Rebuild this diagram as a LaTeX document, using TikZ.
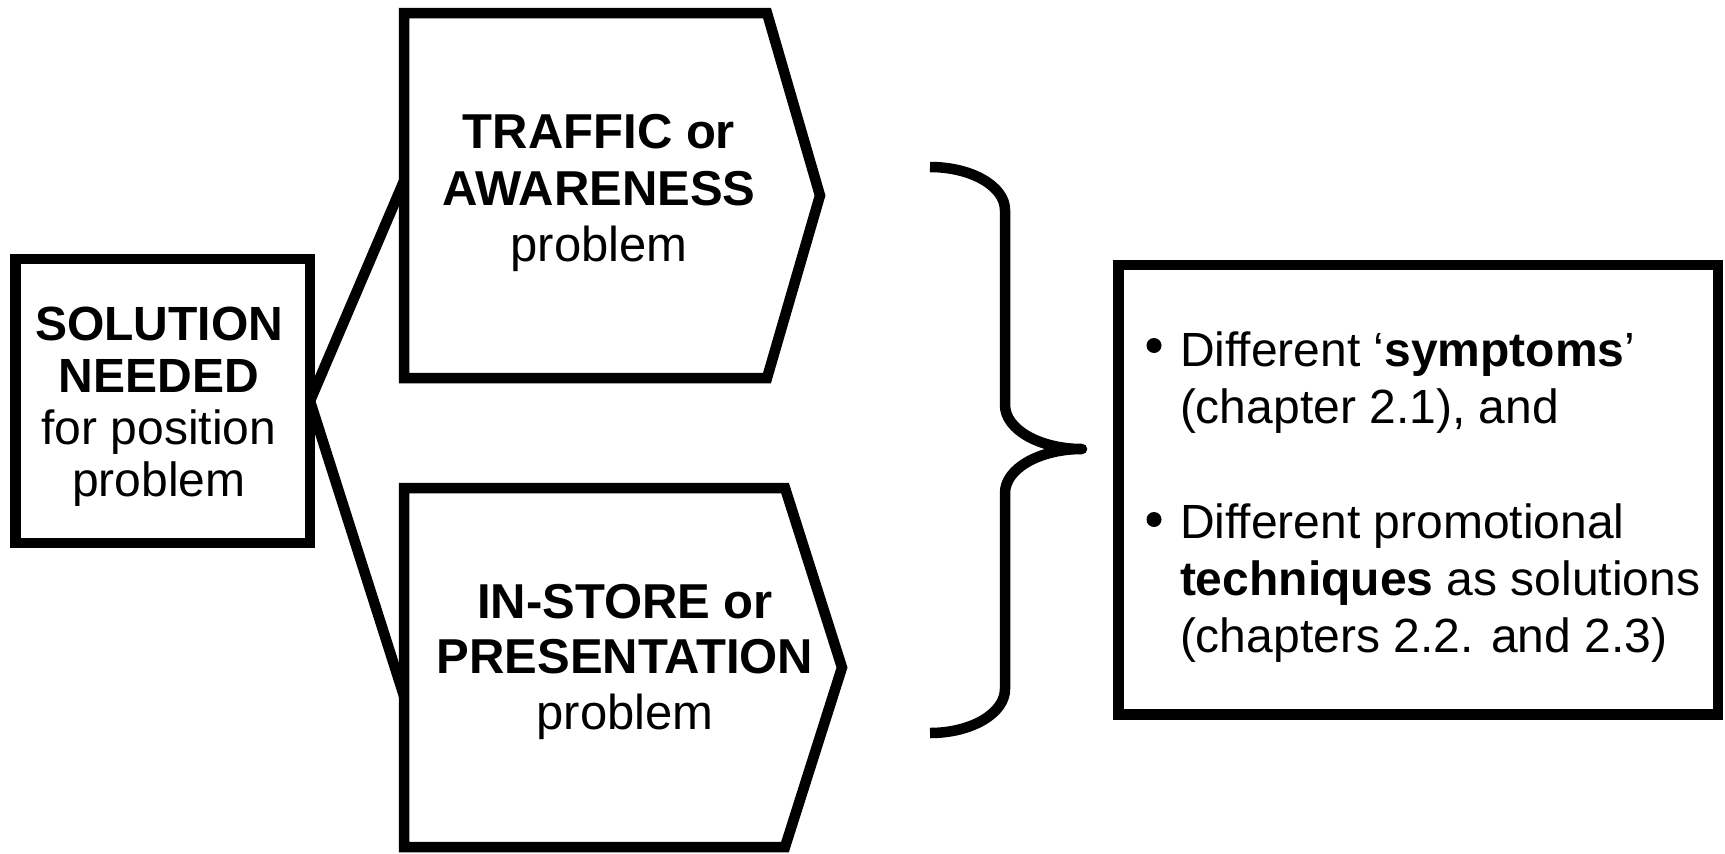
\documentclass[tikz,border=0pt]{standalone}
\usepackage{fontspec}
\setmainfont{Liberation Sans}
\begin{document}
\begin{tikzpicture}[x=1pt,y=-1pt,
  shapeline/.style={draw=black,line width=10.5pt,line join=miter},
  boxnode/.style={shapeline,rectangle,inner sep=0pt,outer sep=0pt},
  txt/.style={inner sep=0pt,outer sep=0pt,text=black},
  conn/.style={draw=black,line width=10.5pt},
  bracepath/.style={draw=black,line width=10.5pt,line join=round,line cap=butt}]
\fill[white] (0,0) rectangle (1725,854);
\useasboundingbox (0,0) rectangle (1725,854);

% left box
\node[boxnode,minimum width=294.5pt,minimum height=284pt] (sol) at (162.75,401) {};
\node[txt] (soltext) at (159,407.6) {\fontsize{48}{52}\selectfont\begin{tabular}{@{}c@{}}\textbf{SOLUTION}\\\textbf{NEEDED}\\for position\\problem\end{tabular}};

% top pentagon
\draw[shapeline] (404,13) -- (767,13) -- (820,195.5) -- (767,378) -- (404,378) -- cycle;
\coordinate (ta) at (404,181);
\node[txt] (traffic) at (599,193.7) {\fontsize{49}{56.5}\selectfont\begin{tabular}{@{}c@{}}\textbf{TRAFFIC or}\\\textbf{AWARENESS}\\problem\end{tabular}};

% bottom pentagon
\draw[shapeline] (404,488) -- (785,488) -- (842,667.5) -- (785,847) -- (404,847) -- cycle;
\coordinate (tb) at (404,696);
\node[txt] (instore) at (625,662.4) {\fontsize{49}{55.5}\selectfont\begin{tabular}{@{}c@{}}\textbf{IN-STORE or}\\\textbf{PRESENTATION}\\problem\end{tabular}};

% connectors
\draw[conn] (sol.east) -- (ta);
\draw[conn] (sol.east) -- (tb);

% brace
\coordinate (btop) at (930,167);
\coordinate (btip) at (1082,449);
\coordinate (bbot) at (930,733);
\draw[bracepath] (btop) .. controls (971.4,167) and (1005,186.3) .. (1005,210)
  -- (1005,405) .. controls (1005,429.3) and (1039.5,449) .. (btip)
  .. controls (1039.5,449) and (1005,468.7) .. (1005,493)
  -- (1005,689) .. controls (1005,713.3) and (971.4,733) .. (bbot);

% right box
\node[boxnode,minimum width=599.5pt,minimum height=449.5pt] (res) at (1418.25,489.75) {};
\fill[black] (1154,345.5) circle (7.5pt);
\fill[black] (1154,519.5) circle (7.5pt);
\node[txt,anchor=west] (restext) at (1180,497.6) {\fontsize{48}{57}\selectfont\begin{tabular}{@{}l@{}}Different ‘\textbf{symptoms}’\\(chapter 2.1), and\\[58pt]Different promotional\\\textbf{techniques} as solutions\\(chapters 2.2. and 2.3)\end{tabular}};
\end{tikzpicture}
\end{document}
